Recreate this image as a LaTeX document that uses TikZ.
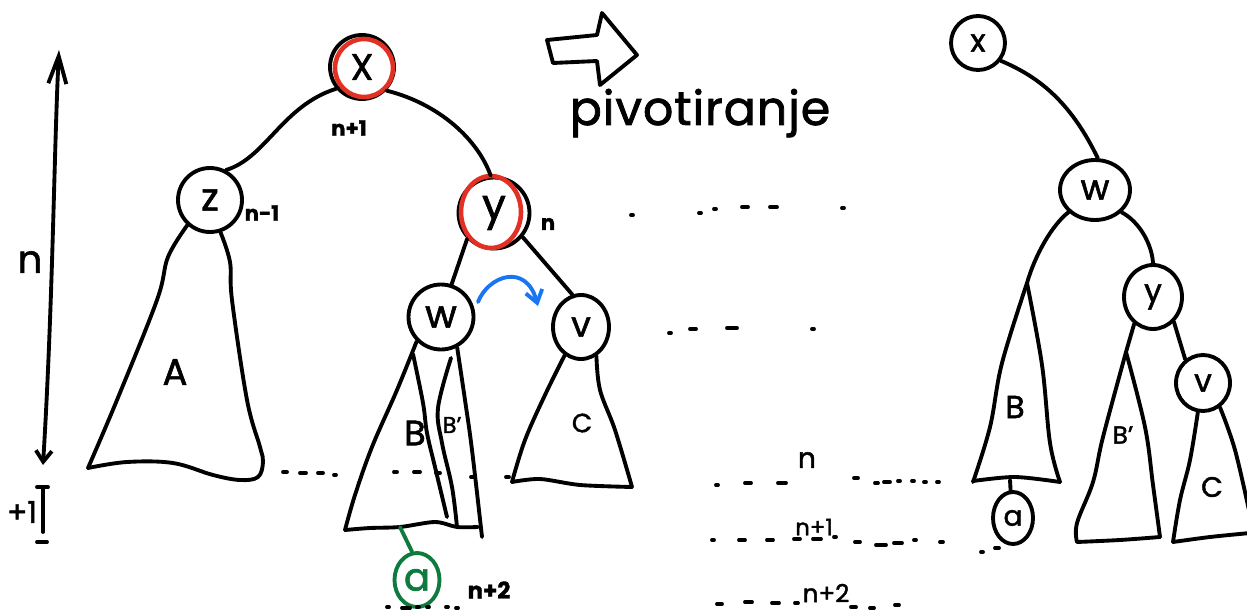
\documentclass[tikz,border=0pt]{standalone}
\usepackage{fontspec}
\setmainfont{Poppins}[FakeBold=1.6]
\usetikzlibrary{arrows.meta,shapes.geometric}
\definecolor{penred}{RGB}{226,48,36}
\definecolor{penblue}{RGB}{24,118,242}
\definecolor{pengreen}{RGB}{14,122,62}
\newcommand\myfs[1]{\fontsize{#1}{#1}\selectfont}
\begin{document}
\begin{tikzpicture}[x=0.02cm,y=-0.02cm,
  ink/.style={line width=2.2pt,line cap=round,line join=round},
  knot/.style={circle,draw,ink,inner sep=0pt,font=\myfs{22}},
  oval/.style={ellipse,draw,ink,inner sep=0pt,font=\myfs{18}},
  lbl/.style={inner sep=0pt},
  tiny/.style={lbl,font=\myfs{12}\bfseries},
  barb/.style={-{Straight Barb[length=0.24cm,width=0.34cm]}}]
\fill[white] (0,0) rectangle (1247,611);
\useasboundingbox (0,0) rectangle (1247,611);

% ---------- tree before the rotation ----------
\node[knot,minimum size=1.28cm,font=\myfs{21}] (X) at (362,67) {X};
\node[circle,draw=penred,line width=2.6pt,minimum size=1.16cm,inner sep=0pt] (Xr) at (364,68) {};
\node[knot,minimum size=1.28cm] (z) at (210,200) {z};
\node[knot,minimum size=1.42cm,font=\myfs{24}] (y) at (494,213) {y};
\node[ellipse,draw=penred,line width=2.6pt,minimum width=1.2cm,minimum height=1.44cm,inner sep=0pt] (yr) at (491,212) {};
\node[knot,minimum size=1.3cm] (w) at (441,317) {w};
\node[oval,minimum width=1.12cm,minimum height=1.28cm,font=\myfs{20}] (v) at (581,327) {v};

\draw[ink] (X.220) .. controls (282,106) and (266,158) .. (z.62);
\draw[ink] (X.-44) .. controls (440,104) and (478,140) .. (y.95);
\draw[ink] (y.224) -- (w.72);
\draw[ink] (y.-40) -- (v.105);
\draw[ink,penblue,barb] (478,302) .. controls (488,276) and (526,262) .. (538,306);

% subtree A
\draw[ink] plot[smooth,tension=0.6] coordinates {(z.228) (168,257) (157,300) (117,400) (88,468)};
\draw[ink] plot[smooth,tension=0.6] coordinates {(88,468) (127,462) (173,463) (213,475) (240,480) (258,477) (263,462) (260,447) (247,400) (232,300) (230,262) (z.288)};
\node[lbl,font=\myfs{21}] (lA) at (175,372) {A};

% subtrees B and B'
\draw[ink] plot[smooth,tension=0.6] coordinates {(w.225) (397,390) (372,447) (355,495) (345,530)};
\draw[ink] plot[smooth,tension=0.5] coordinates {(345,530) (370,528) (400,527) (435,522) (457,527) (478,527)};
\draw[ink] plot[smooth,tension=0.6] coordinates {(413,354) (423,403) (427,433) (435,467) (447,517)};
\draw[ink] plot[smooth,tension=0.6] coordinates {(451,358) (438,408) (442,443) (452,487) (457,527)};
\draw[ink] plot[smooth,tension=0.6] coordinates {(w.-62) (465,400) (472,450) (482,537)};
\node[lbl,font=\myfs{20}] (lB) at (415,433) {B};
\node[lbl,font=\myfs{13}] (lBp) at (452,425) {B'};

% subtree C
\draw[ink] plot[smooth,tension=0.6] coordinates {(v.240) (545,395) (525,440) (512,482)};
\draw[ink] plot[smooth,tension=0.5] coordinates {(512,482) (540,479) (580,485) (632,487)};
\draw[ink] plot[smooth,tension=0.6] coordinates {(v.-62) (600,390) (615,430) (632,487)};
\node[lbl,font=\myfs{15}] (lC) at (582,423) {C};

% the new leaf a
\coordinate (Bfoot) at (400,527);
\node[ellipse,draw=pengreen,ink,text=pengreen,inner sep=0pt,minimum width=0.9cm,minimum height=1.08cm,font=\myfs{22}] (a) at (417,580) {a};
\draw[ink,pengreen] (Bfoot) -- (a.100);

% heights
\node[tiny] (hX) at (349,128) {n+1};
\node[tiny] (hz) at (262,213) {n-1};
\node[tiny] (hy) at (548,224) {n};
\node[tiny,font=\myfs{13}\bfseries] (ha) at (489,590) {n+2};

% height scale on the left
\coordinate (htop) at (59,50);
\coordinate (hbot) at (43,465);
\draw[ink,{Straight Barb[length=0.55cm,width=0.36cm]}-{Straight Barb[length=0.22cm,width=0.32cm]}] (htop) .. controls (54,150) and (53,300) .. (hbot);
\node[lbl,font=\myfs{22}] (hn) at (30,262) {n};
\draw[ink] (37,487) -- (48,487) (43,487) -- (43,532) (37,542) -- (47,542);
\node[lbl,font=\myfs{17}] (hp) at (22,512) {+1};

% dotted level lines
\foreach \a/\b/\c in {283/287/472,300/306/473,318/323/473,334/336/475,394/397/472,414/420/472,436/440/473,471/475/477,506/509/477,
  631/633/215,699/701/213,714/716/209,742/748/207,770/777/207,842/844/208,
  669/671/333,690/696/329,727/737/328,812/814/329,
  716/718/485,745/751/483,778/786/483,854/858/478,875/878/483,884/890/482,898/900/481,912/914/481,924/926/482,937/939/482,
  712/714/540,739/745/540,767/773/540,794/800/539,813/821/539,834/836/537,855/860/542,876/886/545,894/902/543,914/916/540,940/943/542,
  717/722/604,745/752/602,772/779/603,795/798/603,851/856/607,870/874/608,895/899/605,
  387/389/607,402/410/608,417/419/607,427/429/607,446/448/607,456/458/608,
  981/983/552,995/999/548}
  \draw[ink] (\a,\c) -- (\b,\c);
\node[lbl,font=\myfs{16}] (ln) at (807,460) {n};
\node[lbl,font=\myfs{13}] (ln1) at (814,527) {n+1};
\node[lbl,font=\myfs{14}] (ln2) at (826,593) {n+2};

% ---------- the rotation ----------
\draw[ink] (547,40) -- (597,35) -- (602,13) -- (637,55) -- (600,85) -- (597,61) -- (553,63) -- cycle;
\node[lbl,anchor=base,font=\myfs{27}\addfontfeature{LetterSpace=2}] (piv) at (700,125) {pivotiranje};

% ---------- tree after the rotation ----------
\node[knot,minimum size=1.08cm,font=\myfs{18}] (x2) at (978,43) {x};
\node[oval,minimum width=1.4cm,minimum height=1.2cm,font=\myfs{20}] (w2) at (1095,190) {w};
\node[oval,minimum width=1.16cm,minimum height=1.28cm] (y2) at (1153,297) {y};
\node[oval,minimum width=1.08cm,minimum height=1.12cm] (v2) at (1203,383) {v};
\node[oval,minimum width=0.8cm,minimum height=1.04cm,font=\myfs{16}] (a2) at (1013,518) {a};
\coordinate (Btop) at (1027,283);
\coordinate (Bptop) at (1126,352);
\coordinate (Bfoot2) at (1010,480);

\draw[ink] (x2.-38) .. controls (1042,78) and (1072,105) .. (w2.85);
\draw[ink] (w2.220) .. controls (1052,225) and (1035,255) .. (Btop);
\draw[ink] (w2.-40) .. controls (1140,222) and (1152,245) .. (y2.90);
\draw[ink] (y2.235) -- (Bptop);
\draw[ink] (y2.-50) -- (v2.127);
\draw[ink] (Bfoot2) -- (a2.95);

% subtree B
\draw[ink] plot[smooth,tension=0.6] coordinates {(Btop) (1002,363) (990,427) (973,482)};
\draw[ink] plot[smooth,tension=0.5] coordinates {(973,481) (1015,477) (1060,482)};
\draw[ink] plot[smooth,tension=0.6] coordinates {(Btop) (1042,365) (1050,443) (1060,482)};
\node[lbl,font=\myfs{18}] (rB) at (1015,407) {B};
% subtree B'
\draw[ink] plot[smooth,tension=0.6] coordinates {(Bptop) (1103,437) (1093,482) (1077,523) (1077,542)};
\draw[ink] plot[smooth,tension=0.5] coordinates {(1077,542) (1120,540) (1160,537)};
\draw[ink] plot[smooth,tension=0.6] coordinates {(Bptop) (1145,427) (1153,485) (1160,537)};
\node[lbl,font=\myfs{14}] (rBp) at (1123,435) {B'};
% subtree C
\draw[ink] plot[smooth,tension=0.6] coordinates {(v2.260) (1190,460) (1180,500) (1173,542)};
\draw[ink] plot[smooth,tension=0.5] coordinates {(1173,542) (1210,537) (1250,533)};
\draw[ink] plot[smooth,tension=0.6] coordinates {(v2.-55) (1235,450) (1250,515)};
\node[lbl,font=\myfs{16}] (rC) at (1212,487) {C};
\end{tikzpicture}
\end{document}
